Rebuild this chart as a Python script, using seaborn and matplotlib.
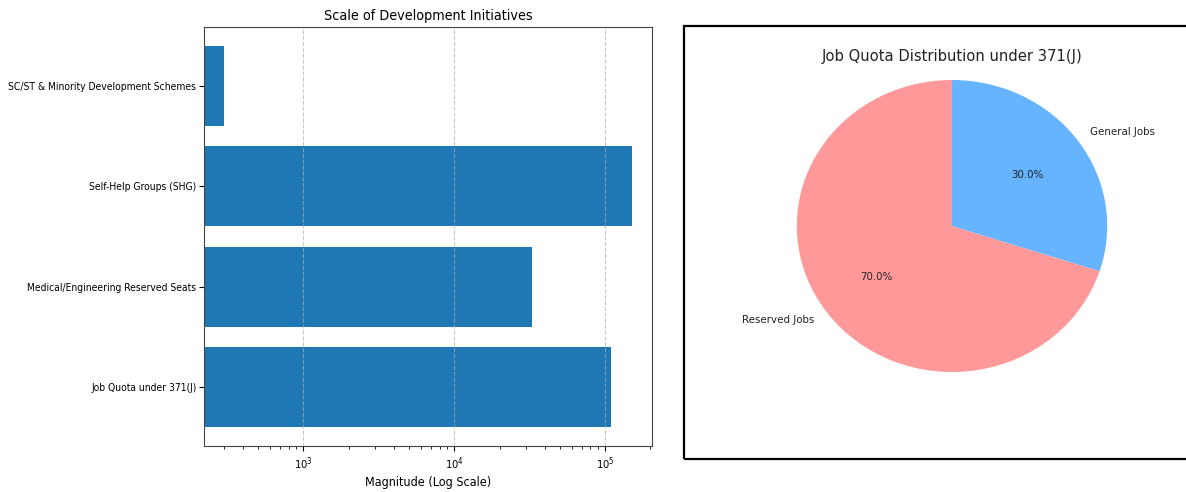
"""
Development initiatives: log-scale bar chart + job quota pie
"""

import numpy as np
import matplotlib
matplotlib.use("Agg")
import matplotlib.pyplot as plt
from matplotlib.patches import Rectangle
import seaborn as sns

# Bar chart data (top to bottom)
initiatives = [
    'SC/ST & Minority Development Schemes',
    'Self-Help Groups (SHG)',
    'Medical/Engineering Reserved Seats',
    'Job Quota under 371(J)',
]
magnitudes = [300, 150000, 33000, 110000]

# Pie chart data
quota_labels = ['Reserved Jobs', 'General Jobs']
quota_shares = [70, 30]
quota_colors = ['#ff9999', '#66b3ff']

W, H = 1186, 492
fig = plt.figure(figsize=(W / 100, H / 100), dpi=100)
fig.patch.set_facecolor('white')

# ---- left: horizontal bars on log scale ----
ax = fig.add_axes([204 / W, 1 - 446 / H, 448 / W, 419 / H])
ax.set_xscale('log')
sns.barplot(x=magnitudes, y=initiatives, orient='h', color='#1f77b4',
            saturation=1, width=0.8, ax=ax)

# matplotlib-like 5% margins in log space
lo, hi = np.log10(min(magnitudes)), np.log10(max(magnitudes))
pad = 0.05 * (hi - lo)
ax.set_xlim(10 ** (lo - pad), 10 ** (hi + pad))
n = len(initiatives)
ypad = 0.05 * (n - 1 + 0.8)
ax.set_ylim(n - 1 + 0.4 + ypad, -0.4 - ypad)

cond = dict(family='DejaVu Sans', stretch='condensed')
ax.set_title('Scale of Development Initiatives', fontsize=10.3, pad=5, **cond)
ax.set_xlabel('Magnitude (Log Scale)', fontsize=9, labelpad=3, **cond)
ax.set_ylabel('')
ax.tick_params(axis='y', labelsize=7.4, length=3.5, pad=2)
ax.tick_params(axis='x', labelsize=8)
for lbl in ax.get_yticklabels() + ax.get_xticklabels():
    lbl.set_fontstretch('condensed')
ax.grid(axis='x', which='major', linestyle='--', alpha=0.7)
for s in ax.spines.values():
    s.set_visible(True)
    s.set_color('#444444')
    s.set_linewidth(0.8)

# ---- right: framed pie ----
fig.patches.append(Rectangle((684 / W, 1 - 459 / H), (1200 - 684) / W, 433 / H,
                             transform=fig.transFigure, fill=False,
                             edgecolor='black', linewidth=1.6, clip_on=False))

pax = fig.add_axes([758 / W, 1 - 408.5 / H, 388 / W, 365 / H])
pax.pie(quota_shares, labels=quota_labels, colors=quota_colors,
        autopct='%1.1f%%', startangle=90,
        textprops={'fontsize': 7.4, 'color': '#222222'})
pax.set_aspect('auto')
pax.set_xlim(-1.25, 1.25)
pax.set_ylim(-1.25, 1.25)
fig.text(952 / W, 1 - 56 / H, 'Job Quota Distribution under 371(J)',
         ha='center', va='center', fontsize=10.6, color='#222222')

fig.savefig('out.png', dpi=100, facecolor='white')
